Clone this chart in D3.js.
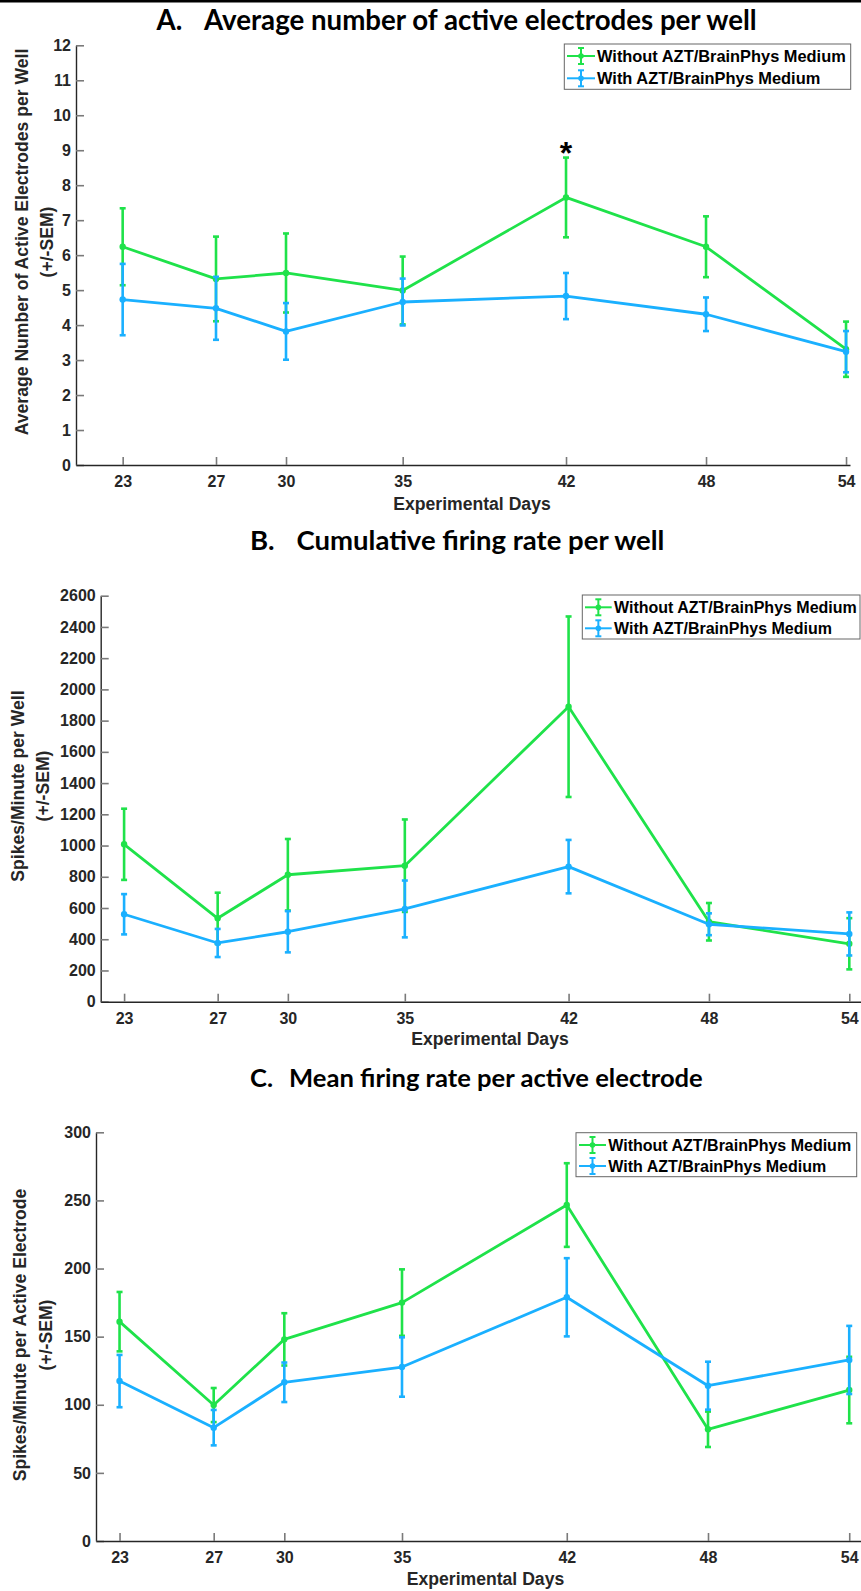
<!DOCTYPE html>
<html><head><meta charset="utf-8">
<script src="https://cdn.jsdelivr.net/npm/d3@7"></script>
<style>
body{margin:0;background:#fff;}
svg{display:block;}
</style></head><body>
<svg id="chart" width="861" height="1591"></svg>
<script>
// ---------------- data ----------------
const days = [23, 27, 30, 35, 42, 48, 54];
const seriesNames = ["Without AZT/BrainPhys Medium", "With AZT/BrainPhys Medium"];

// Panel A: average number of active electrodes per well
const aWithoutMean = [6.24, 5.32, 5.49, 4.99, 7.65, 6.24, 3.31];
const aWithoutSem  = [1.10, 1.21, 1.13, 0.97, 1.14, 0.87, 0.79];
const aWithMean    = [4.73, 4.48, 3.82, 4.66, 4.83, 4.31, 3.24];
const aWithSem     = [1.02, 0.90, 0.81, 0.67, 0.66, 0.48, 0.59];
const aYTicks = [0, 1, 2, 3, 4, 5, 6, 7, 8, 9, 10, 11, 12];

// Panel B: cumulative firing rate per well
const bWithoutMean = [1008, 534, 813, 871, 1889, 512, 371];
const bWithoutSem  = [228, 164, 229, 296, 578, 120, 164];
const bWithMean    = [560, 376, 448, 594, 865, 496, 434];
const bWithSem     = [129, 90, 132, 182, 171, 70, 138];
const bYTicks = [0, 200, 400, 600, 800, 1000, 1200, 1400, 1600, 1800, 2000, 2200, 2400, 2600];

// Panel C: mean firing rate per active electrode
const cWithoutMean = [161, 99.8, 148, 175, 246.6, 82, 110.8];
const cWithoutSem  = [21.8, 12.5, 19.2, 24.4, 30.7, 13, 24.4];
const cWithMean    = [117.4, 83.2, 116.5, 127.7, 178.9, 114, 132.9];
const cWithSem     = [19.2, 13, 14.5, 21.8, 28.7, 17.6, 25];
const cYTicks = [0, 50, 100, 150, 200, 250, 300];

const titleLetters = ["A.", "B.", "C."];
const titleTexts = ["Average number of active electrodes per well",
                    "Cumulative firing rate per well",
                    "Mean firing rate per active electrode"];
const yLabelLines = [["Average Number of Active Electrodes per Well", "(+/-SEM)"],
                     ["Spikes/Minute per Well", "(+/-SEM)"],
                     ["Spikes/Minute per Active Electrode", "(+/-SEM)"]];
const xLabelText = "Experimental Days";
const significanceMarks = [{panel: 0, day: 42, label: "*"}];

// ---------------- style / layout ----------------
const colors = ["#1fe24a", "#1ab0ff"];
const axisColor = "#262626";
const tickColor = "#7a7a7a";
const labelFont = "'Liberation Sans', Arial, Helvetica, sans-serif";
const titleFont = "Lato, 'Open Sans', sans-serif";

const panels = [
  { means: [aWithoutMean, aWithMean], sems: [aWithoutSem, aWithSem], yTicks: aYTicks,
    xDomain: [21, 54.17], xRange: [76, 850], yRange: [465, 45.3],
    titleLetterX: 156.5, titleTextX: 204, titleTextW: 553, titleY: 30,
    yLabX: [21.7, 46.7], yLabY: 242, xLabY: 504, xLabX: 472,
    legend: {x0: 564.3, x1: 850.7, y0: 44, y1: 89.3, rows: [56, 78.3], lx0: 567, lx1: 595, tx: 597, fs: 16.4} },
  { means: [bWithoutMean, bWithMean], sems: [bWithoutSem, bWithSem], yTicks: bYTicks,
    xDomain: [22, 54.5], xRange: [100.7, 861], yRange: [1001.7, 595.7],
    titleLetterX: 250, titleTextX: 296.5, titleTextW: 368, titleY: 550,
    yLabX: [18.3, 42.7], yLabY: 786, xLabY: 1038.5, xLabX: 490,
    legend: {x0: 582.3, x1: 860, y0: 595, y1: 639, rows: [607.3, 628.3], lx0: 585, lx1: 611.7, tx: 614, fs: 16} },
  { means: [cWithoutMean, cWithMean], sems: [cWithoutSem, cWithSem], yTicks: cYTicks,
    xDomain: [22, 54.5], xRange: [96, 861], yRange: [1541, 1132.3],
    titleLetterX: 250, titleTextX: 289, titleTextW: 414, titleY: 1087,
    yLabX: [20.3, 45.7], yLabY: 1335, xLabY: 1579, xLabX: 485.5,
    legend: {x0: 576, x1: 856.7, y0: 1132.7, y1: 1176.7, rows: [1145, 1166], lx0: 579, lx1: 606, tx: 608.3, fs: 16} }
];

const svg = d3.select("#chart");
svg.append("rect").attr("x", 0).attr("y", 0).attr("width", 861).attr("height", 2.5).attr("fill", "#000");

panels.forEach((p, pi) => {
  const g = svg.append("g");
  const x = d3.scaleLinear().domain(p.xDomain).range(p.xRange);
  const y = d3.scaleLinear().domain([p.yTicks[0], p.yTicks[p.yTicks.length - 1]]).range(p.yRange);

  // title
  const tl = g.append("text").attr("x", p.titleLetterX).attr("y", p.titleY)
    .attr("font-family", titleFont).attr("font-weight", 700).attr("font-size", 27)
    .attr("fill", "#000").text(titleLetters[pi]);
  const tt = g.append("text").attr("x", p.titleTextX).attr("y", p.titleY)
    .attr("font-family", titleFont).attr("font-weight", 700).attr("font-size", 27)
    .attr("fill", "#000").text(titleTexts[pi]);
  const w = tt.node().getComputedTextLength();
  const fs = 27 * p.titleTextW / w;
  tt.attr("font-size", fs);
  tl.attr("font-size", fs);

  // axes
  const fmt = d3.format("d");
  const yAxis = d3.axisLeft(y).tickValues(p.yTicks).tickFormat(fmt).tickSize(-8).tickSizeOuter(0).tickPadding(5);
  const xAxis = d3.axisBottom(x).tickValues(days).tickFormat(fmt).tickSize(-8).tickSizeOuter(0).tickPadding(11);
  const ya = g.append("g").attr("transform", `translate(${p.xRange[0]},0)`).call(yAxis);
  const xa = g.append("g").attr("transform", `translate(0,${p.yRange[0]})`).call(xAxis);
  [ya, xa].forEach(a => {
    a.select(".domain").attr("stroke", axisColor).attr("stroke-width", 1.4);
    a.selectAll(".tick line").attr("stroke", tickColor).attr("stroke-width", 1.6);
    a.selectAll(".tick text").attr("fill", axisColor).attr("font-family", labelFont)
      .attr("font-weight", "bold").attr("font-size", 16);
  });

  // axis labels
  g.append("text").attr("x", p.xLabX).attr("y", p.xLabY).attr("dy", "0.35em")
    .attr("text-anchor", "middle").attr("font-family", labelFont).attr("font-weight", "bold")
    .attr("font-size", 17.6).attr("fill", axisColor).text(xLabelText);
  yLabelLines[pi].forEach((line, li) => {
    g.append("text").attr("transform", `translate(${p.yLabX[li]},${p.yLabY}) rotate(-90)`)
      .attr("dy", "0.35em").attr("text-anchor", "middle").attr("font-family", labelFont)
      .attr("font-weight", "bold").attr("font-size", 17.6).attr("fill", axisColor).text(line);
  });

  // series
  const capHalf = 3;
  p.means.forEach((m, si) => {
    const col = colors[si];
    const pts = days.map((d, i) => ({d, m: m[i], s: p.sems[si][i]}));
    const sg = g.append("g");
    sg.append("path").datum(pts)
      .attr("d", d3.line().x(v => x(v.d)).y(v => y(v.m)))
      .attr("fill", "none").attr("stroke", col).attr("stroke-width", 2.8)
      .attr("stroke-linejoin", "round");
    const eb = sg.selectAll(".eb").data(pts).enter().append("g");
    eb.append("line").attr("x1", v => x(v.d)).attr("x2", v => x(v.d))
      .attr("y1", v => y(v.m - v.s)).attr("y2", v => y(v.m + v.s))
      .attr("stroke", col).attr("stroke-width", 2.6);
    eb.append("line").attr("x1", v => x(v.d) - capHalf).attr("x2", v => x(v.d) + capHalf)
      .attr("y1", v => y(v.m + v.s)).attr("y2", v => y(v.m + v.s))
      .attr("stroke", col).attr("stroke-width", 2.6);
    eb.append("line").attr("x1", v => x(v.d) - capHalf).attr("x2", v => x(v.d) + capHalf)
      .attr("y1", v => y(v.m - v.s)).attr("y2", v => y(v.m - v.s))
      .attr("stroke", col).attr("stroke-width", 2.6);
    sg.selectAll(".mk").data(pts).enter().append("circle")
      .attr("cx", v => x(v.d)).attr("cy", v => y(v.m)).attr("r", 3.2).attr("fill", col);
  });

  // significance marks
  significanceMarks.filter(s => s.panel === pi).forEach(s => {
    const i = days.indexOf(s.day);
    const top = y(p.means[0][i] + p.sems[0][i]);
    g.append("text").attr("x", x(s.day)).attr("y", top + 6).attr("text-anchor", "middle")
      .attr("font-family", labelFont).attr("font-weight", "bold").attr("font-size", 32)
      .attr("fill", "#000").text(s.label);
  });

  // legend
  const L = p.legend;
  g.append("rect").attr("x", L.x0).attr("y", L.y0).attr("width", L.x1 - L.x0).attr("height", L.y1 - L.y0)
    .attr("fill", "#fff").attr("stroke", "#666").attr("stroke-width", 1);
  seriesNames.forEach((name, si) => {
    const ry = L.rows[si], col = colors[si], mx = (L.lx0 + L.lx1) / 2;
    g.append("line").attr("x1", L.lx0).attr("x2", L.lx1).attr("y1", ry).attr("y2", ry)
      .attr("stroke", col).attr("stroke-width", 2);
    g.append("line").attr("x1", mx).attr("x2", mx).attr("y1", ry - 8).attr("y2", ry + 8)
      .attr("stroke", col).attr("stroke-width", 2);
    [ry - 8, ry + 8].forEach(cy => g.append("line").attr("x1", mx - 3).attr("x2", mx + 3)
      .attr("y1", cy).attr("y2", cy).attr("stroke", col).attr("stroke-width", 2));
    g.append("circle").attr("cx", mx).attr("cy", ry).attr("r", 2.8).attr("fill", col);
    g.append("text").attr("x", L.tx).attr("y", ry).attr("dy", "0.36em")
      .attr("font-family", labelFont).attr("font-weight", "bold").attr("font-size", L.fs)
      .attr("fill", "#000").text(name);
  });
});
</script>
</body></html>
